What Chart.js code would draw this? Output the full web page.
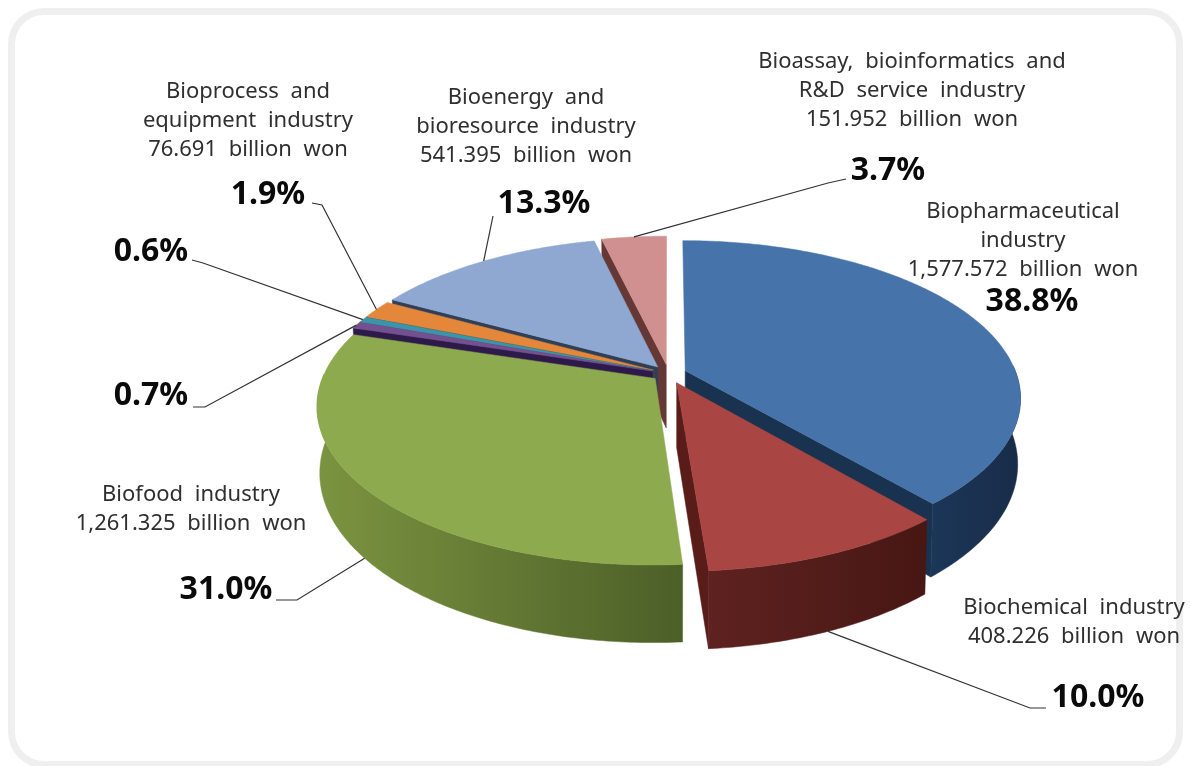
<!DOCTYPE html>
<html>
<head>
<meta charset="utf-8">
<style>
html,body{margin:0;padding:0;background:#fff;width:1190px;height:766px;overflow:hidden}
#frame{position:absolute;left:8px;top:8px;width:1161px;height:746px;border:7px solid #efefef;border-radius:36px;background:#fff}
canvas{position:absolute;left:0;top:0}
</style>
<script src="https://cdn.jsdelivr.net/npm/chart.js@4"></script>
</head>
<body>
<div id="frame"></div>
<canvas id="c" width="1190" height="766"></canvas>
<script>
// ---- data ----
const categories = [
  "Biopharmaceutical industry", "Biochemical industry", "Biofood industry",
  "Other industry A", "Other industry B", "Bioprocess and equipment industry",
  "Bioenergy and bioresource industry", "Bioassay, bioinformatics and R&D service industry"
];
const shares = [38.8, 10.0, 31.0, 0.7, 0.6, 1.9, 13.3, 3.7];
const shareLabels = ["38.8%", "10.0%", "31.0%", "0.7%", "0.6%", "1.9%", "13.3%", "3.7%"];
const explode = [20, 24, 19, 19, 19, 19, 20, 22];
const topColors = ["#4673a9", "#a94644", "#8eaa4f", "#74508f", "#3a94ab", "#e5873a", "#8fa8d2", "#d09090"];
const sideLight = ["#1c3658", "#5e2220", "#7b9440", "#4b2d66", "#1f5566", "#a85e20", "#5d7299", "#6f3c3c"];
const sideDark  = ["#182c48", "#471713", "#4c5f28", "#2f1a45", "#123a46", "#7c4416", "#3f4f6c", "#583030"];
const wallColors = ["#18324f", "#5a1c19", "#5a6f30", "#2e1a4a", "#1c4d5c", "#6d4016", "#2f3f58", "#653836"];
const captionLines = [
  ["Biopharmaceutical", "industry", "1,577.572 billion won"],
  ["Biochemical industry", "408.226 billion won"],
  ["Biofood industry", "1,261.325 billion won"],
  [], [],
  ["Bioprocess and", "equipment industry", "76.691 billion won"],
  ["Bioenergy and", "bioresource industry", "541.395 billion won"],
  ["Bioassay, bioinformatics and", "R&D service industry", "151.952 billion won"]
];

// ---- layout (not data) ----
const cx = 668.5, cy = 373.5, A = 331, B = 153, K = 0.17, DEPTH = 64, TAPER = 0.008;
const captionPos = [[1023,211.5],[1074,607.5],[191,494.5],null,null,[248,91.5],[526,97.5],[912,61.5]];
const lineGap = 29;
const pctPos = [[1032,302],[1098,698],[226,590],[151,396],[151,252],[268,195],[544,204],[888,171]];
// leader: [elbow, end, wall z of anchor]; null = no leader
const leaders = [
  null,
  [[1030,708],[1046,708],1],
  [[297,600],[276,600],1],
  [[205,407],[193,407],0],
  [[203,263],[192,260],0],
  [[322,205],[312,203],0],
  [[493,216],[493,216],0],
  [[828,183],[846,179],0]
];
const order = [7,6,5,4,3,0,2,1];

function project(u, v, z) {
  const s = 1 / (1 - K * v);
  return [cx + A * u * s * (1 - TAPER * z), cy + (B * v + DEPTH * z) * s];
}
function slicePoints(el) {
  const R = el.outerRadius;
  const mid = (el.startAngle + el.endAngle) / 2;
  const d = (el.options.offset || 0) / R;
  const ox = d * Math.cos(mid), oy = d * Math.sin(mid);
  const n = Math.max(2, Math.ceil((el.endAngle - el.startAngle) / 0.012));
  const rim = [];
  for (let i = 0; i <= n; i++) {
    const a = el.startAngle + (el.endAngle - el.startAngle) * i / n;
    rim.push([ox + Math.cos(a), oy + Math.sin(a)]);
  }
  return { apex: [ox, oy], rim, mid, ox, oy };
}
function poly(ctx, pts, fill) {
  ctx.beginPath();
  pts.forEach((p, i) => i ? ctx.lineTo(p[0], p[1]) : ctx.moveTo(p[0], p[1]));
  ctx.closePath();
  ctx.fillStyle = fill;
  ctx.strokeStyle = fill;
  ctx.lineWidth = 0.5;
  ctx.fill();
  ctx.stroke();
}

const pie3d = {
  id: "pie3d",
  beforeDatasetDraw(chart, args) {
    const ctx = chart.ctx;
    const arcs = args.meta.data;
    ctx.save();
    order.forEach(i => {
      const g = slicePoints(arcs[i]);
      const top = g.rim.map(p => project(p[0], p[1], 0));
      const a0 = project(g.apex[0], g.apex[1], 0);
      const a1 = project(g.apex[0], g.apex[1], 1);
      const last = g.rim.length - 1;
      const bottomOf = p => project(p[0], p[1], 1);
      // radial walls, only where they face the viewer
      if (g.rim[0][0] - g.ox < -1e-3) poly(ctx, [a0, top[0], bottomOf(g.rim[0]), a1], wallColors[i]);
      if (g.rim[last][0] - g.ox > 1e-3) poly(ctx, [a0, top[last], bottomOf(g.rim[last]), a1], wallColors[i]);
      // outer wall with horizontal shading, front part of the rim only
      const front = g.rim.filter(p => p[1] - g.oy > -0.03);
      if (front.length > 1) {
        const ft = front.map(p => project(p[0], p[1], 0));
        const fb = front.map(bottomOf);
        const xs = ft.map(p => p[0]);
        const grad = ctx.createLinearGradient(Math.min(...xs), 0, Math.max(...xs), 0);
        grad.addColorStop(0, sideLight[i]);
        grad.addColorStop(1, sideDark[i]);
        poly(ctx, ft.concat(fb.reverse()), grad);
      }
      // top face
      poly(ctx, [a0].concat(top), topColors[i]);
    });
    ctx.restore();
    return false;
  },
  afterDraw(chart) {
    const ctx = chart.ctx;
    const arcs = chart.getDatasetMeta(0).data;
    ctx.save();
    // leaders
    ctx.strokeStyle = "#333333";
    ctx.lineWidth = 1.2;
    leaders.forEach((l, i) => {
      if (!l) return;
      const g = slicePoints(arcs[i]);
      const p = project(g.ox + Math.cos(g.mid), g.oy + Math.sin(g.mid), l[2]);
      ctx.beginPath();
      ctx.moveTo(p[0], p[1]);
      ctx.lineTo(l[0][0], l[0][1]);
      ctx.lineTo(l[1][0], l[1][1]);
      ctx.stroke();
    });
    // captions
    ctx.textAlign = "center";
    ctx.textBaseline = "middle";
    ctx.fillStyle = "#2f2f2f";
    ctx.font = '22px "Noto Sans"';
    ctx.wordSpacing = "6px";
    captionLines.forEach((lines, i) => {
      const pos = captionPos[i];
      if (!pos) return;
      lines.forEach((t, j) => ctx.fillText(t, pos[0], pos[1] + j * lineGap));
    });
    ctx.wordSpacing = "0px";
    // percentages
    ctx.fillStyle = "#0a0a0a";
    ctx.font = 'bold 32px "Noto Sans"';
    shareLabels.forEach((t, i) => ctx.fillText(t, pctPos[i][0], pctPos[i][1]));
    ctx.restore();
  }
};

new Chart(document.getElementById("c"), {
  type: "pie",
  data: {
    labels: categories,
    datasets: [{ data: shares, backgroundColor: topColors, offset: explode, borderWidth: 0 }]
  },
  options: {
    responsive: false,
    animation: false,
    plugins: { legend: { display: false }, tooltip: { enabled: false } }
  },
  plugins: [pie3d]
});
</script>
</body>
</html>
